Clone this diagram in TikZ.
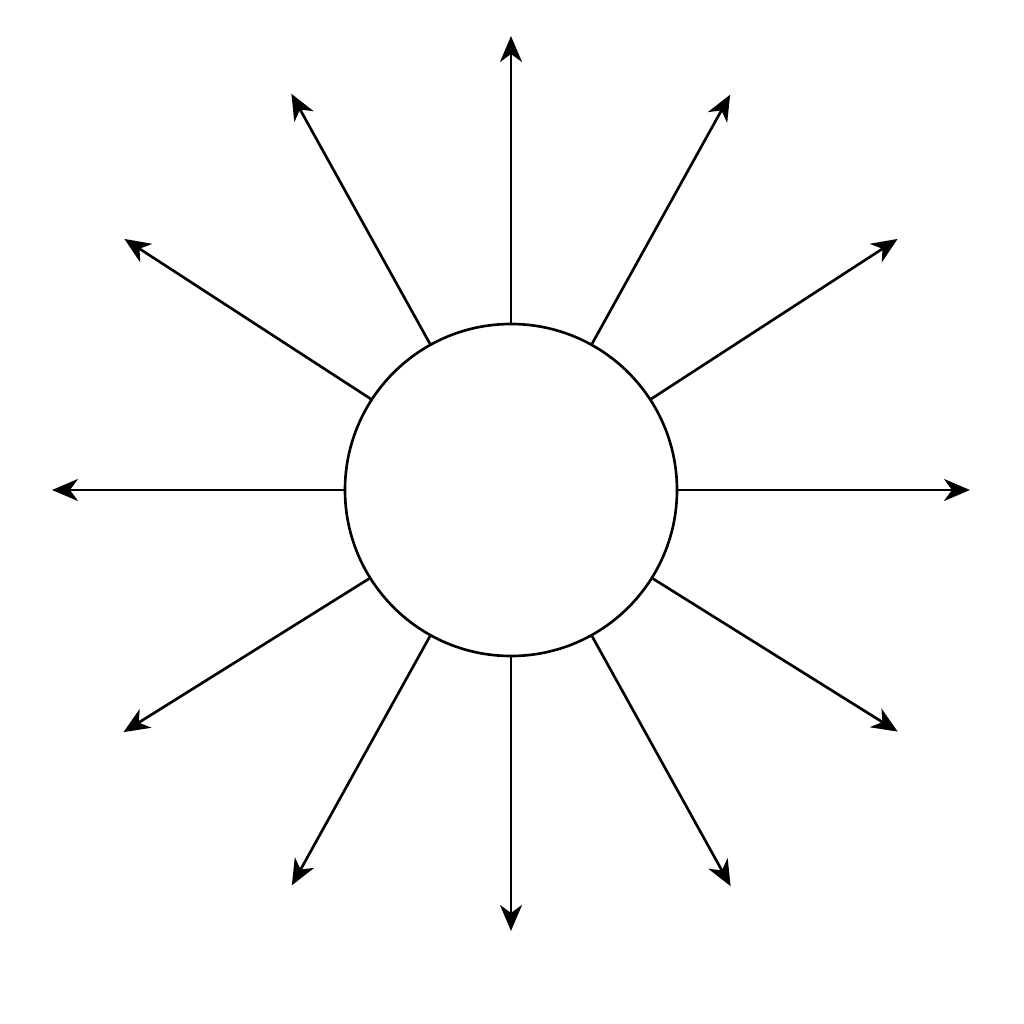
\documentclass[tikz,border=0pt]{standalone}
\usetikzlibrary{arrows.meta,calc}

\begin{document}
\begin{tikzpicture}[
    ray/.style={-{Stealth[length=2.6mm,width=2.2mm,inset=0.8mm]},line width=0.75pt},
    core/.style={circle,draw,line width=0.75pt,minimum size=3.32cm,inner sep=0pt}
  ]
  \useasboundingbox (0,0) rectangle (10.24,10.24);
  \node[core] (sun) at (5.11,5.34) {};
  % rays: angle / length
  \foreach \a/\r in {0/4.59,33/4.61,61/4.52,90/4.54,119/4.53,147/4.61,
                     180/4.59,212/4.57,241/4.52,270/4.41,299/4.53,328/4.56}
   {
     \coordinate (tip-\a) at ($(sun.center)+(\a:\r)$);
     \draw[ray] (sun.\a) -- (tip-\a);
   }
\end{tikzpicture}
\end{document}
